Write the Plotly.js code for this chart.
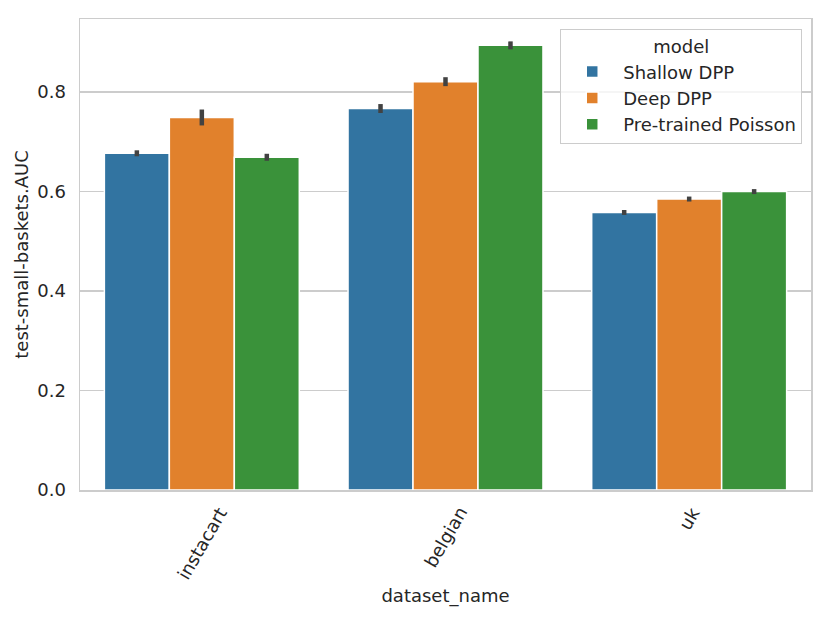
<!DOCTYPE html>
<html>
<head>
<meta charset="utf-8">
<script src="https://cdn.plot.ly/plotly-3.0.1.min.js"></script>
<style>
  html, body { margin: 0; padding: 0; background: #fff; }
  #graph { width: 831px; height: 620px; }
</style>
</head>
<body>
<div id="graph"></div>
<script>
var datasets = ["instacart", "belgian", "uk"];
var models = ["Shallow DPP", "Deep DPP", "Pre-trained Poisson"];
var colors = ["#3274a1", "#e1812c", "#3a923a"];

// mean AUC per dataset, one array per model
var shallowAuc = [0.677, 0.767, 0.558];
var deepAuc = [0.749, 0.821, 0.585];
var poissonAuc = [0.669, 0.894, 0.600];

// half-width of the error bars
var shallowErr = [0.006, 0.009, 0.005];
var deepErr = [0.016, 0.009, 0.005];
var poissonErr = [0.007, 0.008, 0.005];

var values = [shallowAuc, deepAuc, poissonAuc];
var errors = [shallowErr, deepErr, poissonErr];

var textColor = "#262626";
var gridColor = "#cccccc";

var traces = [];
for (var i = 0; i < models.length; i++) {
    traces.push({
        type: "bar",
        name: models[i],
        x: datasets,
        y: values[i],
        marker: { color: colors[i], line: { color: "#ffffff", width: 1.5 } },
        error_y: {
            type: "data",
            array: errors[i],
            visible: true,
            color: "#424242",
            thickness: 4.5,
            width: 0
        },
        hoverinfo: "x+y+name"
    });
}

// rotated category labels, centred under each group like matplotlib does
var labelAnnotations = datasets.map(function (d) {
    return {
        x: d,
        xref: "x",
        y: 0,
        yref: "paper",
        yshift: -11,
        xanchor: "center",
        yanchor: "top",
        text: d,
        textangle: -60,
        showarrow: false,
        font: { size: 18, color: textColor }
    };
});

var layout = {
    width: 831,
    height: 620,
    margin: { l: 80, r: 20, t: 19, b: 130 },
    paper_bgcolor: "#ffffff",
    plot_bgcolor: "#ffffff",
    font: { family: "DejaVu Sans", size: 18, color: textColor },
    barmode: "group",
    bargap: 0.2,
    bargroupgap: 0,
    showlegend: true,
    legend: {
        title: { text: "model", side: "top center", font: { size: 18, color: textColor } },
        x: 0.988,
        xanchor: "right",
        y: 0.979,
        yanchor: "top",
        bgcolor: "rgba(255,255,255,0.8)",
        bordercolor: gridColor,
        borderwidth: 1,
        font: { size: 18, color: textColor },
        itemwidth: 52
    },
    annotations: labelAnnotations,
    xaxis: {
        type: "category",
        range: [-0.5, 2.5],
        showgrid: false,
        showline: true,
        linecolor: gridColor,
        linewidth: 1.5,
        mirror: true,
        ticks: "",
        showticklabels: false,
        title: { text: "dataset_name", font: { size: 18, color: textColor }, standoff: 99 },
        fixedrange: true
    },
    yaxis: {
        range: [0, 0.947],
        tickvals: [0, 0.2, 0.4, 0.6, 0.8],
        ticktext: ["0.0", "0.2", "0.4", "0.6", "0.8"],
        showgrid: true,
        gridcolor: gridColor,
        gridwidth: 1.5,
        zeroline: false,
        showline: true,
        linecolor: gridColor,
        linewidth: 1.5,
        mirror: true,
        ticks: "",
        ticklabelstandoff: 9,
        tickfont: { size: 18, color: textColor },
        title: { text: "test-small-baskets.AUC", font: { size: 18, color: textColor }, standoff: 4 },
        fixedrange: true
    }
};

Plotly.newPlot("graph", traces, layout, { displayModeBar: false, staticPlot: true });
</script>
</body>
</html>
